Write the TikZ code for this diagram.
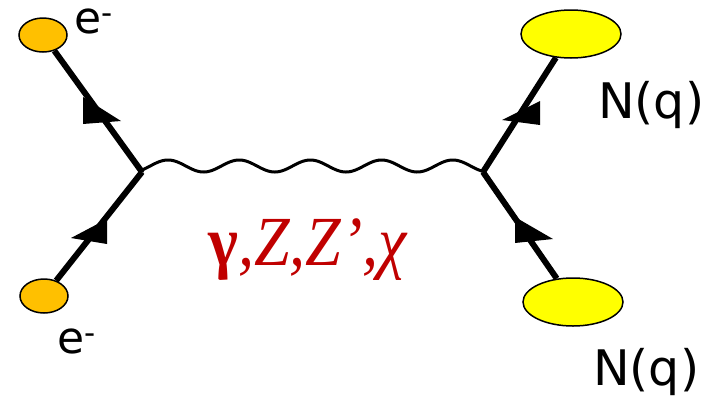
\documentclass[tikz,border=0pt]{standalone}
\usepackage{fontspec}
\setmainfont{DejaVu Sans}
\newfontfamily\tms{Liberation Serif}
\usetikzlibrary{shapes.geometric}
\definecolor{gold}{HTML}{FFC000}
\definecolor{yel}{HTML}{FFFF00}
\definecolor{dred}{HTML}{C00000}
\tikzset{
  eblob/.style={ellipse, draw=black, line width=1.5pt, fill=gold, inner sep=0pt, minimum width=48pt, minimum height=34pt},
  nblob/.style={ellipse, draw=black, line width=1.5pt, fill=yel, inner sep=0pt, minimum width=100pt, minimum height=48pt},
  fermion/.style={line width=6pt},
  photon/.style={line width=3pt},
  ahead/.style={fill=black},
  lbl/.style={anchor=base west, inner sep=0pt, font=\fontsize{49}{49}\selectfont},
  elbl/.style={anchor=base west, inner sep=0pt, font=\fontsize{44}{44}\selectfont},
}
\begin{document}
\begin{tikzpicture}[x=1pt,y=-1pt]
\useasboundingbox (0,0) rectangle (715,400);
\coordinate (vL) at (142,172);
\coordinate (vR) at (483,172);
\node[eblob] (e1) at (43,35) {};
\node[eblob] (e2) at (44,296) {};
\node[nblob] (n1) at (571,34) {};
\node[nblob] (n2) at (573,302) {};
% fermion lines
\draw[fermion] (e1) -- (vL);
\draw[fermion] (e2) -- (vL);
\draw[fermion] (n1) -- (vR);
\draw[fermion] (n2) -- (vR);
% arrowheads
\fill[ahead] (83,97) -- (83,124) -- (121,121) -- cycle;
\fill[ahead] (107,219) -- (107,244) -- (71,238) -- cycle;
\fill[ahead] (540,101) -- (540,125) -- (502,120) -- cycle;
\fill[ahead] (515,217) -- (515,243) -- (553,239) -- cycle;
% photon
\draw[photon] (vL) -- plot[domain=143:482, samples=240, smooth] (\x,{166-6*cos(5.0562*(\x-168))}) -- (vR);
% labels
\node[elbl] (t1) at (74,33) {e\textsuperscript{-}};
\node[elbl] (t2) at (57,353) {e\textsuperscript{-}};
\node[lbl] (t3) at (598,118) {N(q)};
\node[lbl] (t4) at (593,385) {N(q)};
\node[anchor=base west, inner sep=0pt, text=dred, font=\tms\fontsize{64}{64}\selectfont] (t5) at (208,265) {\scalebox{1}[1.1]{\textbf{γ}\textit{,Z,Z’,χ}}};
\end{tikzpicture}
\end{document}
